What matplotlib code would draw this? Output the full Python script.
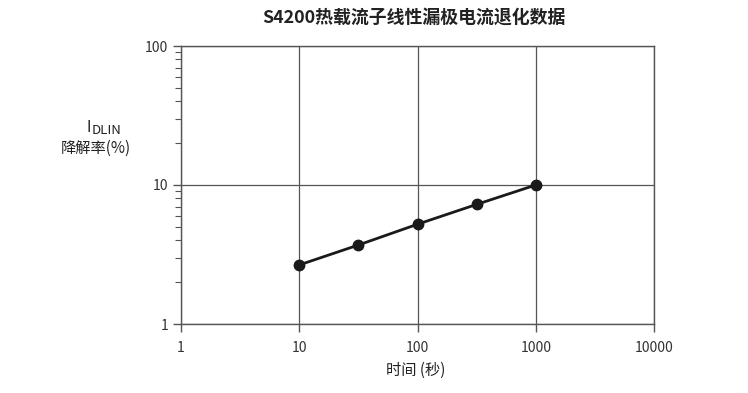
import numpy as np
import matplotlib.pyplot as plt
from matplotlib.ticker import FixedLocator, LogLocator, NullFormatter, NullLocator

plt.rcParams['font.family'] = ['Noto Sans CJK SC', 'DejaVu Sans']

# data
stress_time = [10, 31.6, 100, 316, 1000]
idlin_degradation = [2.66, 3.70, 5.22, 7.25, 10.0]
xticks = [1, 10, 100, 1000, 10000]
yticks = [1, 10, 100]

fig = plt.figure(figsize=(7.48, 3.93), dpi=100)
ax = fig.add_axes([181/748, 1-324/393, (654-181)/748, (324-46)/393])

ax.plot(stress_time, idlin_degradation, color='#1a1a1a', lw=2,
        marker='o', markersize=7.5, zorder=3)

ax.set_xscale('log')
ax.set_yscale('log')
ax.set_xlim(1, 10000)
ax.set_ylim(1, 100)

ax.xaxis.set_major_locator(FixedLocator(xticks))
ax.set_xticklabels([str(t) for t in xticks])
ax.xaxis.set_minor_locator(NullLocator())
ax.yaxis.set_major_locator(FixedLocator(yticks))
ax.set_yticklabels([str(t) for t in yticks])
ax.yaxis.set_minor_locator(LogLocator(base=10, subs=np.arange(2, 10)))
ax.yaxis.set_minor_formatter(NullFormatter())

ax.tick_params(axis='both', which='major', length=6, width=1, color='#555555',
               labelsize=10, labelcolor='#333333')
ax.tick_params(axis='y', which='minor', length=4, width=0.8, color='#555555')
ax.tick_params(axis='x', pad=6)
ax.tick_params(axis='y', pad=3)

ax.grid(which='major', color='#555555', lw=0.9)
for s in ax.spines.values():
    s.set_color('#555555')
    s.set_linewidth(1)

fig.text(414/748, 1-18/393, 'S4200热载流子线性漏极电流退化数据',
         ha='center', va='center', fontsize=12.9, fontweight='bold', color='#222222')
fig.text(416/748, 1-370/393, '时间 (秒)', ha='center', va='center',
         fontsize=11, color='#222222')
# y label: I with subscript DLIN, then second line
fig.text(86/748, 1-128/393, 'I', ha='left', va='center',
         fontsize=11, color='#222222')
fig.text(92/748, 1-131/393, 'DLIN', ha='left', va='center',
         fontsize=9.5, color='#222222')
fig.text(96/748, 1-148/393, '降解率(%)', ha='center', va='center',
         fontsize=11, color='#222222')

plt.savefig('out.png', dpi=100)
plt.close()
